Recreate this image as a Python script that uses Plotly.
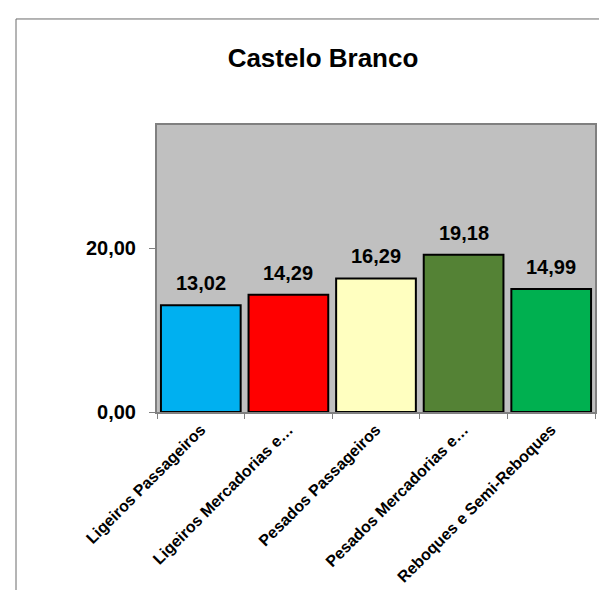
import plotly.graph_objects as go

categories = ["Ligeiros Passageiros", "Ligeiros Mercadorias e…", "Pesados Passageiros",
              "Pesados Mercadorias e…", "Reboques e Semi-Reboques"]
values = [13.02, 14.29, 16.29, 19.18, 14.99]
value_labels = ["13,02", "14,29", "16,29", "19,18", "14,99"]
colors = ["#00B0F0", "#FF0000", "#FFFFC0", "#548235", "#00B050"]
y_tickvals = [0, 20]
y_ticktext = ["0,00", "20,00"]

FONT = "Arial, Liberation Sans, sans-serif"

fig = go.Figure()
fig.add_trace(go.Bar(
    x=categories, y=values,
    marker=dict(color=colors, line=dict(color="#000000", width=2)),
    width=0.91, hoverinfo="skip",
))

for c, v, t in zip(categories, values, value_labels):
    fig.add_annotation(x=c, y=v, text="<b>%s</b>" % t, showarrow=False,
                       yanchor="bottom", yshift=9,
                       font=dict(family=FONT, size=20, color="#000000"))

W, H = 607, 590
L, R, T, B = 149, 20, 117, 182
pw, ph = W - L - R, H - T - B

def px(x):
    return (x - L) / pw

def py(y):
    return (H - B - y) / ph

fig.add_shape(type="rect", xref="paper", yref="paper",
              x0=px(8), x1=px(622), y0=py(620), y1=py(9.5),
              line=dict(color="#6a6a6a", width=1), fillcolor="rgba(0,0,0,0)", layer="below")

fig.update_layout(
    width=W, height=H,
    margin=dict(l=L, r=R, t=T, b=B),
    paper_bgcolor="#FFFFFF", plot_bgcolor="#C0C0C0",
    showlegend=False,
    bargap=0.09,
    title=dict(text="<b>Castelo Branco</b>", x=315 / W, xref="container", xanchor="center",
               y=1 - 50 / H, yref="container", yanchor="middle",
               font=dict(family=FONT, size=26, color="#000000")),
    font=dict(family=FONT, color="#000000"),
)
fig.update_xaxes(
    type="category", tickson="boundaries", ticks="outside", ticklen=5, tickcolor="#808080",
    tickangle=-45, tickfont=dict(family=FONT, size=16, color="#000000"),
    showline=True, linecolor="#808080", linewidth=2, mirror=True, showgrid=False,
    tickprefix="<b>", ticksuffix="</b>",
)
fig.update_yaxes(
    range=[0, 35], tickvals=y_tickvals, ticktext=["<b>%s</b>" % t for t in y_ticktext],
    ticks="outside", ticklen=6, tickcolor="#808080", ticklabelstandoff=9,
    tickfont=dict(family=FONT, size=20, color="#000000"),
    showline=True, linecolor="#808080", linewidth=2, mirror=True, showgrid=False, zeroline=False,
)

fig.write_html("out.html")
